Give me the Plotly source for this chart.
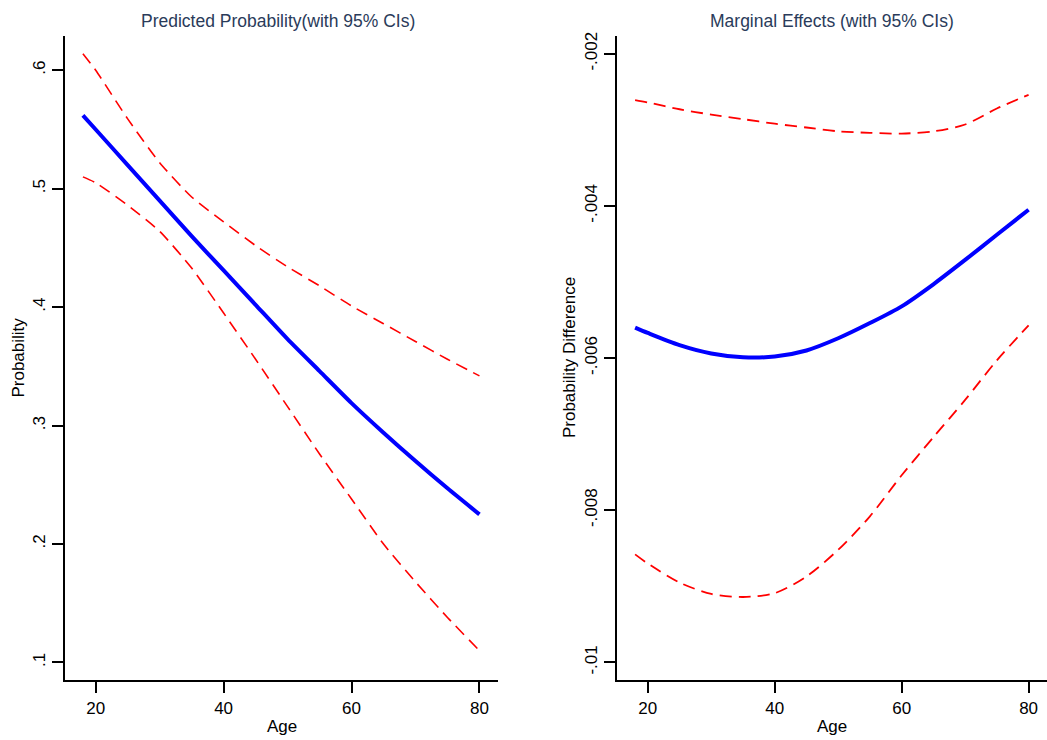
import plotly.graph_objects as go

# ---- data ----
age = [18, 20, 25, 30, 35, 40, 45, 50, 55, 60, 65, 70, 75, 80]

pred_prob = [0.562, 0.550, 0.520, 0.490, 0.460, 0.431, 0.402, 0.373, 0.346, 0.319, 0.294, 0.270, 0.247, 0.225]
pred_upper = [0.614, 0.600, 0.559, 0.522, 0.493, 0.472, 0.452, 0.434, 0.418, 0.401, 0.386, 0.371, 0.356, 0.342]
pred_lower = [0.510, 0.505, 0.486, 0.464, 0.433, 0.395, 0.356, 0.316, 0.276, 0.238, 0.200, 0.168, 0.138, 0.110]

me = [-0.00560, -0.00567, -0.00583, -0.00594, -0.00599, -0.00598, -0.00590, -0.00574, -0.00554, -0.00532, -0.00503, -0.00471, -0.00438, -0.00405]
me_upper = [-0.00261, -0.00264, -0.00273, -0.00280, -0.00286, -0.00292, -0.00297, -0.00302, -0.00304, -0.00305, -0.00302, -0.00293, -0.00272, -0.00254]
me_lower = [-0.00858, -0.00870, -0.00895, -0.00910, -0.00914, -0.00909, -0.00887, -0.00852, -0.00808, -0.00754, -0.00704, -0.00655, -0.00603, -0.00557]

x_ticks = [20, 40, 60, 80]
left_yticks = [0.1, 0.2, 0.3, 0.4, 0.5, 0.6]
left_yticktext = [".1", ".2", ".3", ".4", ".5", ".6"]
right_yticks = [-0.01, -0.008, -0.006, -0.004, -0.002]
right_yticktext = ["-.01", "-.008", "-.006", "-.004", "-.002"]

FONT = "Liberation Sans, Arial, sans-serif"
TITLE_COLOR = "#2a3b5a"
RED = "#ff0000"
BLUE = "#0000ff"
DASH = "12px,7px"

fig = go.Figure()

# Left panel
fig.add_trace(go.Scatter(x=age, y=pred_upper, mode="lines", line=dict(color=RED, width=1.6, dash=DASH, shape="spline", smoothing=0.6),
                         xaxis="x", yaxis="y", showlegend=False))
fig.add_trace(go.Scatter(x=age, y=pred_lower, mode="lines", line=dict(color=RED, width=1.6, dash=DASH, shape="spline", smoothing=0.6),
                         xaxis="x", yaxis="y", showlegend=False))
fig.add_trace(go.Scatter(x=age, y=pred_prob, mode="lines", line=dict(color=BLUE, width=4, shape="spline", smoothing=0.6),
                         xaxis="x", yaxis="y", showlegend=False))

# Right panel
fig.add_trace(go.Scatter(x=age, y=me_upper, mode="lines", line=dict(color=RED, width=1.8, dash=DASH, shape="spline", smoothing=0.8),
                         xaxis="x2", yaxis="y2", showlegend=False))
fig.add_trace(go.Scatter(x=age, y=me_lower, mode="lines", line=dict(color=RED, width=1.8, dash=DASH, shape="spline", smoothing=0.8),
                         xaxis="x2", yaxis="y2", showlegend=False))
fig.add_trace(go.Scatter(x=age, y=me, mode="lines", line=dict(color=BLUE, width=4, shape="spline", smoothing=0.8),
                         xaxis="x2", yaxis="y2", showlegend=False))

W, H = 1047, 740
ybot, ytop = 680, 32
ydom = [(H - ybot) / H, (H - ytop) / H]

axis_common = dict(showgrid=False, zeroline=False, showline=True, linecolor="black", linewidth=2,
                   ticks="outside", ticklen=11, tickwidth=2, tickcolor="black",
                   tickfont=dict(family=FONT, size=17, color="black"))

fig.update_layout(
    width=W, height=H,
    margin=dict(l=0, r=0, t=0, b=0),
    paper_bgcolor="white", plot_bgcolor="white",
    font=dict(family=FONT, size=17, color="black"),
    xaxis=dict(domain=[65 / W, 498 / W], range=[15.2, 82.9], tickvals=x_ticks, anchor="y", **axis_common),
    yaxis=dict(domain=ydom, range=[0.0849, 0.6291], tickvals=left_yticks, ticktext=left_yticktext,
               tickangle=-90, anchor="x", **axis_common),
    xaxis2=dict(domain=[616.7 / W, 1.0], range=[15.1, 82.9], tickvals=x_ticks, anchor="y2", **axis_common),
    yaxis2=dict(domain=ydom, range=[-0.010235, -0.001765], tickvals=right_yticks, ticktext=right_yticktext,
                tickangle=-90, anchor="x2", **axis_common),
    annotations=[
        dict(text="Predicted Probability(with 95% CIs)", x=277.5 / W, y=(H - 17) / H, xref="paper", yref="paper",
             showarrow=False, xanchor="center", yanchor="middle", font=dict(family=FONT, size=17.5, color=TITLE_COLOR)),
        dict(text="Marginal Effects (with 95% CIs)", x=831.7 / W, y=(H - 17) / H, xref="paper", yref="paper",
             showarrow=False, xanchor="center", yanchor="middle", font=dict(family=FONT, size=17.5, color=TITLE_COLOR)),
        dict(text="Age", x=281.7 / W, y=(H - 726) / H, xref="paper", yref="paper",
             showarrow=False, xanchor="center", yanchor="middle", font=dict(family=FONT, size=17, color="black")),
        dict(text="Age", x=831.7 / W, y=(H - 726) / H, xref="paper", yref="paper",
             showarrow=False, xanchor="center", yanchor="middle", font=dict(family=FONT, size=17, color="black")),
        dict(text="Probability", x=18.5 / W, y=(H - 356) / H, xref="paper", yref="paper", textangle=-90,
             showarrow=False, xanchor="center", yanchor="middle", font=dict(family=FONT, size=17, color="black")),
        dict(text="Probability Difference", x=569 / W, y=(H - 356) / H, xref="paper", yref="paper", textangle=-90,
             showarrow=False, xanchor="center", yanchor="middle", font=dict(family=FONT, size=17, color="black")),
    ],
)

fig.write_html("out.html", config={"displayModeBar": False},
               post_script="document.body.style.margin='0';document.body.style.padding='0';document.body.style.overflow='hidden';")
